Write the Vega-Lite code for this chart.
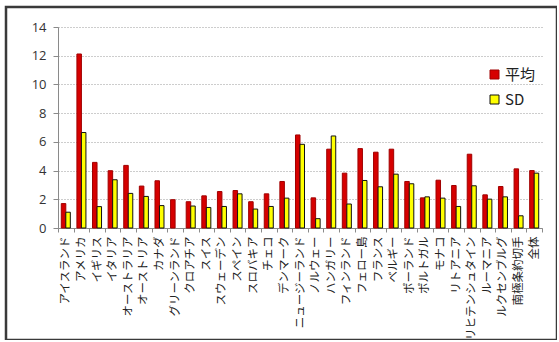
{
  "$schema": "https://vega.github.io/schema/vega-lite/v6.json",
  "autosize": "none",
  "padding": {"left": 6, "top": 7, "right": 0, "bottom": 0},
  "width": 551,
  "height": 333,
  "background": "white",
  "config": {
    "view": {"stroke": "#3a3a3a", "strokeWidth": 2.5, "fill": "white"},
    "font": "Noto Sans CJK JP"
  },
  "data": {
    "values": [
      {"country": "アイスランド", "series": "平均", "value": 1.7},
      {"country": "アイスランド", "series": "SD", "value": 1.1},
      {"country": "アメリカ", "series": "平均", "value": 12.12},
      {"country": "アメリカ", "series": "SD", "value": 6.65},
      {"country": "イギリス", "series": "平均", "value": 4.57},
      {"country": "イギリス", "series": "SD", "value": 1.49},
      {"country": "イタリア", "series": "平均", "value": 3.99},
      {"country": "イタリア", "series": "SD", "value": 3.36},
      {"country": "オーストラリア", "series": "平均", "value": 4.36},
      {"country": "オーストラリア", "series": "SD", "value": 2.41},
      {"country": "オーストリア", "series": "平均", "value": 2.92},
      {"country": "オーストリア", "series": "SD", "value": 2.2},
      {"country": "カナダ", "series": "平均", "value": 3.29},
      {"country": "カナダ", "series": "SD", "value": 1.56},
      {"country": "グリーンランド", "series": "平均", "value": 1.97},
      {"country": "クロアチア", "series": "平均", "value": 1.83},
      {"country": "クロアチア", "series": "SD", "value": 1.53},
      {"country": "スイス", "series": "平均", "value": 2.24},
      {"country": "スイス", "series": "SD", "value": 1.43},
      {"country": "スウェーデン", "series": "平均", "value": 2.54},
      {"country": "スウェーデン", "series": "SD", "value": 1.5},
      {"country": "スペイン", "series": "平均", "value": 2.61},
      {"country": "スペイン", "series": "SD", "value": 2.38},
      {"country": "スロバキア", "series": "平均", "value": 1.83},
      {"country": "スロバキア", "series": "SD", "value": 1.32},
      {"country": "チェコ", "series": "平均", "value": 2.38},
      {"country": "チェコ", "series": "SD", "value": 1.5},
      {"country": "デンマーク", "series": "平均", "value": 3.24},
      {"country": "デンマーク", "series": "SD", "value": 2.08},
      {"country": "ニュージーランド", "series": "平均", "value": 6.48},
      {"country": "ニュージーランド", "series": "SD", "value": 5.83},
      {"country": "ノルウェー", "series": "平均", "value": 2.1},
      {"country": "ノルウェー", "series": "SD", "value": 0.65},
      {"country": "ハンガリー", "series": "平均", "value": 5.49},
      {"country": "ハンガリー", "series": "SD", "value": 6.41},
      {"country": "フィンランド", "series": "平均", "value": 3.82},
      {"country": "フィンランド", "series": "SD", "value": 1.67},
      {"country": "フェロー島", "series": "平均", "value": 5.53},
      {"country": "フェロー島", "series": "SD", "value": 3.31},
      {"country": "フランス", "series": "平均", "value": 5.28},
      {"country": "フランス", "series": "SD", "value": 2.87},
      {"country": "ベルギー", "series": "平均", "value": 5.49},
      {"country": "ベルギー", "series": "SD", "value": 3.75},
      {"country": "ポーランド", "series": "平均", "value": 3.24},
      {"country": "ポーランド", "series": "SD", "value": 3.08},
      {"country": "ポルトガル", "series": "平均", "value": 2.1},
      {"country": "ポルトガル", "series": "SD", "value": 2.17},
      {"country": "モナコ", "series": "平均", "value": 3.33},
      {"country": "モナコ", "series": "SD", "value": 2.08},
      {"country": "リトアニア", "series": "平均", "value": 2.96},
      {"country": "リトアニア", "series": "SD", "value": 1.5},
      {"country": "リヒテンシュタイン", "series": "平均", "value": 5.14},
      {"country": "リヒテンシュタイン", "series": "SD", "value": 2.94},
      {"country": "ルーマニア", "series": "平均", "value": 2.31},
      {"country": "ルーマニア", "series": "SD", "value": 2.01},
      {"country": "ルクセンブルグ", "series": "平均", "value": 2.89},
      {"country": "ルクセンブルグ", "series": "SD", "value": 2.17},
      {"country": "南極条約切手", "series": "平均", "value": 4.12},
      {"country": "南極条約切手", "series": "SD", "value": 0.85},
      {"country": "全体", "series": "平均", "value": 4.0},
      {"country": "全体", "series": "SD", "value": 3.82}
    ]
  },
  "mark": {"type": "bar", "strokeWidth": 1},
  "encoding": {
    "x": {
      "field": "country",
      "type": "nominal",
      "sort": null,
      "title": null,
      "scale": {"range": [52, 536], "paddingInner": 0, "paddingOuter": 0},
      "axis": {
        "offset": -112,
        "tickBand": "extent",
        "labelAngle": -90,
        "labelAlign": "right",
        "labelBaseline": "middle",
        "labelFontSize": 11.5,
        "labelColor": "#222222",
        "labelPadding": 4,
        "tickSize": 4,
        "tickColor": "#8a8a8a",
        "domainColor": "#8a8a8a",
        "grid": false
      }
    },
    "xOffset": {
      "field": "series",
      "type": "nominal",
      "sort": ["平均", "SD"],
      "scale": {"paddingInner": 0, "paddingOuter": 0.73}
    },
    "y": {
      "field": "value",
      "type": "quantitative",
      "title": null,
      "scale": {"domain": [0, 14], "range": [221, 20], "nice": false},
      "axis": {
        "offset": -52,
        "values": [0, 2, 4, 6, 8, 10, 12, 14],
        "labelFont": "Open Sans",
        "labelFontSize": 13,
        "labelColor": "#333333",
        "labelPadding": 7,
        "tickSize": 5,
        "tickColor": "#8a8a8a",
        "domainColor": "#8a8a8a",
        "gridColor": "#9a9a9a",
        "gridDash": [1, 2],
        "gridWidth": 1
      }
    },
    "color": {
      "field": "series",
      "type": "nominal",
      "sort": ["平均", "SD"],
      "scale": {"domain": ["平均", "SD"], "range": ["#d60000", "#ffff00"]},
      "legend": {
        "title": null,
        "orient": "none",
        "legendX": 481,
        "legendY": 60,
        "symbolType": "square",
        "symbolSize": 81,
        "symbolStrokeWidth": 1,
        "labelFontSize": 15,
        "labelColor": "#222222",
        "labelOffset": 3,
        "rowPadding": 9
      }
    },
    "stroke": {
      "field": "series",
      "type": "nominal",
      "sort": ["平均", "SD"],
      "scale": {"domain": ["平均", "SD"], "range": ["#a00000", "#111111"]},
      "legend": {
        "title": null,
        "orient": "none",
        "legendX": 481,
        "legendY": 60,
        "symbolType": "square",
        "symbolSize": 81,
        "symbolStrokeWidth": 1,
        "labelFontSize": 15,
        "labelColor": "#222222",
        "labelOffset": 3,
        "rowPadding": 9
      }
    }
  }
}
